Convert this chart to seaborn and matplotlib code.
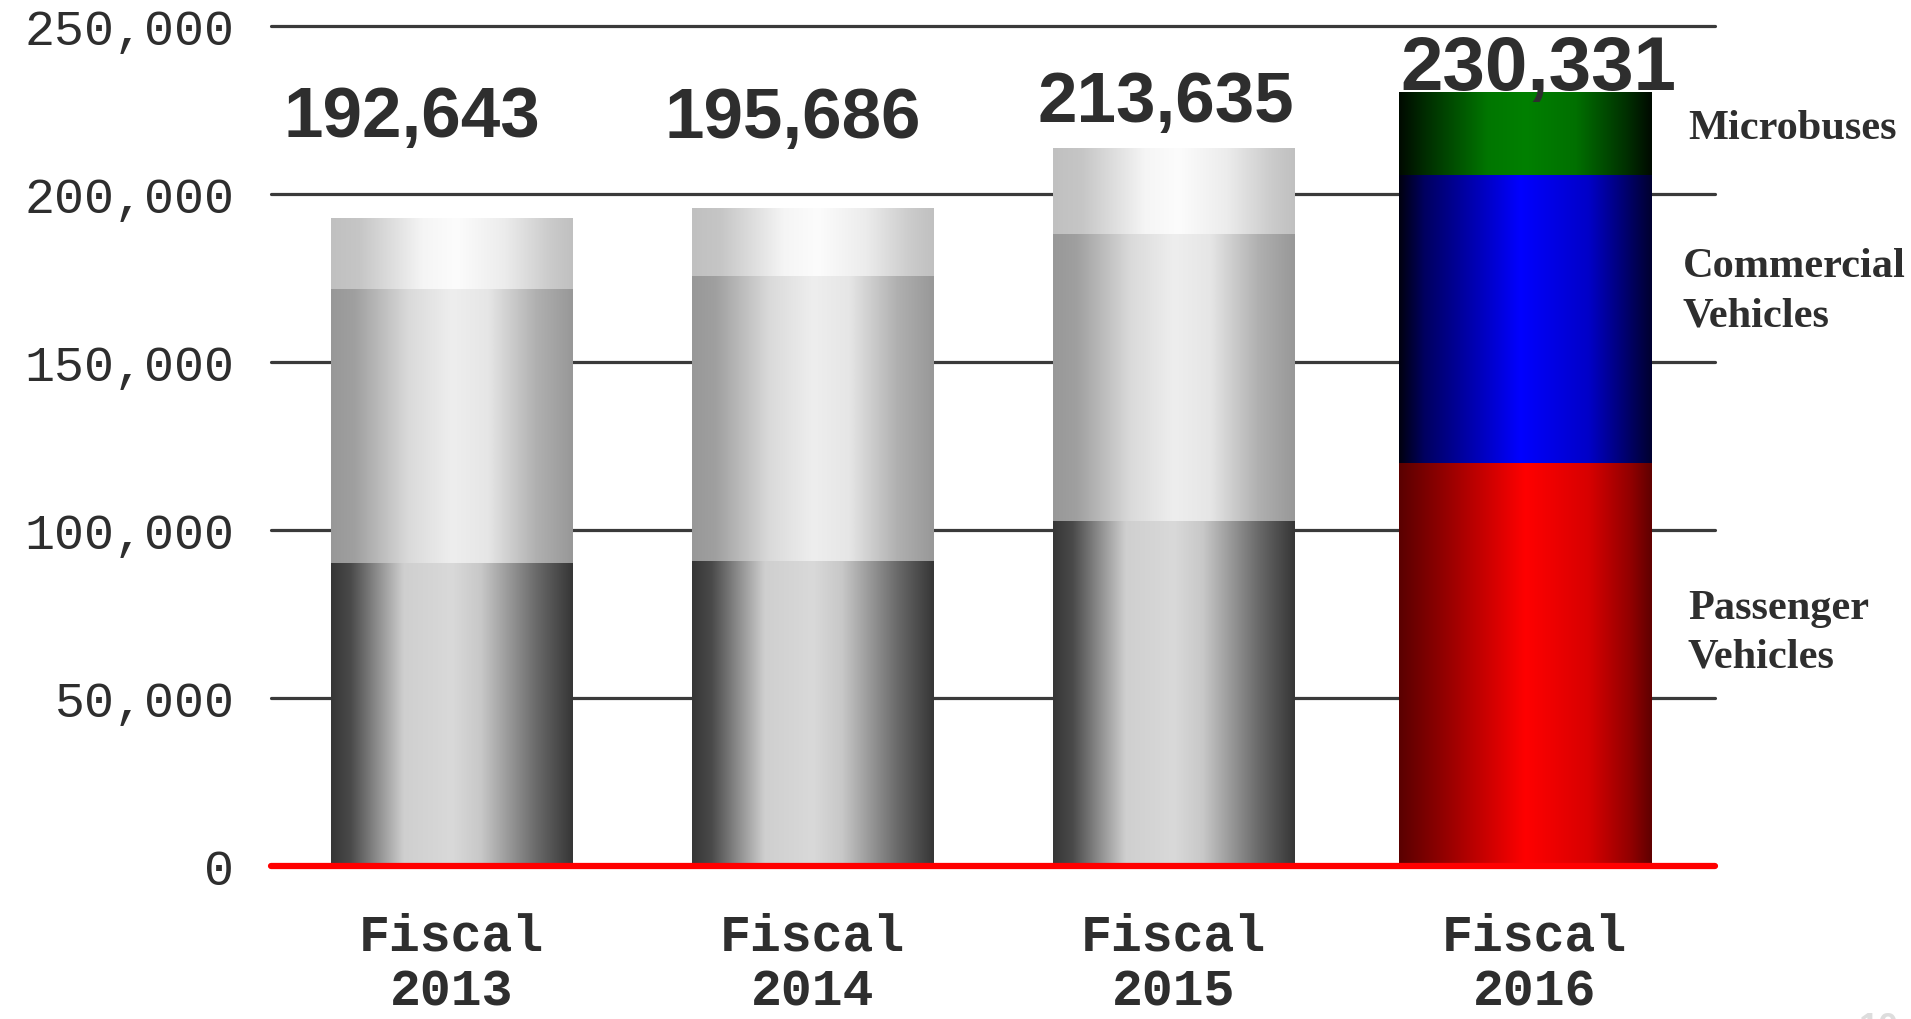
import numpy as np
import matplotlib
matplotlib.use("Agg")
import matplotlib.pyplot as plt
from matplotlib.colors import LinearSegmentedColormap
import seaborn as sns

# ---- data -------------------------------------------------------------
years = ["Fiscal\n2013", "Fiscal\n2014", "Fiscal\n2015", "Fiscal\n2016"]
passenger = [90100, 90700, 102600, 119850]
commercial = [81550, 84800, 85400, 85750]
microbuses = [20993, 20186, 25635, 24731]
totals = [192643, 195686, 213635, 230331]
y_ticks = [0, 50000, 100000, 150000, 200000, 250000]
segment_names = ["Microbuses", "Commercial\nVehicles", "Passenger\nVehicles"]

# ---- style ------------------------------------------------------------
TXT = "#2e2e2e"
bar_widths = [0.668, 0.668, 0.668, 0.70]
bar_shift = [0.0, 0.0, 0.0, -0.025]
total_label_dx = [-0.109, -0.053, -0.02, 0.012]
total_label_y = [217300, 217000, 221700, 231100]
total_label_size = [51, 51, 51, 55]
name_pos = [(3.425, 219500), (3.411, 171100), (3.425, 69500)]

grey_mb = [(0, "#c0c0c0"), (0.12, "#c6c6c6"), (0.38, "#f5f5f5"), (0.52, "#fcfcfc"),
           (0.72, "#ececec"), (0.9, "#cccccc"), (1, "#c0c0c0")]
grey_cv = [(0, "#989898"), (0.1, "#a0a0a0"), (0.32, "#dadada"), (0.5, "#eeeeee"),
           (0.65, "#e6e6e6"), (0.85, "#b0b0b0"), (1, "#989898")]
grey_pv = [(0, "#363636"), (0.08, "#4a4a4a"), (0.3, "#cfcfcf"), (0.5, "#d9d9d9"),
           (0.62, "#c8c8c8"), (0.85, "#6a6a6a"), (1, "#363636")]
green = [(0, "#000a00"), (0.1, "#002c00"), (0.35, "#007600"), (0.5, "#008000"),
         (0.7, "#007000"), (0.9, "#003000"), (1, "#000a00")]
blue = [(0, "#000010"), (0.1, "#000060"), (0.48, "#0000ff"), (0.75, "#0000c8"),
        (0.92, "#000060"), (1, "#000030")]
red = [(0, "#5a0000"), (0.15, "#8a0000"), (0.5, "#ff0000"), (0.75, "#d80000"),
       (0.92, "#900000"), (1, "#600000")]

layer_shades = [
    [grey_mb, grey_mb, grey_mb, green],
    [grey_cv, grey_cv, grey_cv, blue],
    [grey_pv, grey_pv, grey_pv, red],
]

sns.set_theme(style="white")
plt.rcParams["font.family"] = ["Liberation Sans", "DejaVu Sans"]

fig = plt.figure(figsize=(19.11, 10.2), dpi=100)
ax = fig.add_axes([0.1416, 0.1504, 0.7558, 0.8233])

# stacked bars: cumulative heights drawn from the tallest layer down
cum_cv = [p + c for p, c in zip(passenger, commercial)]
levels = [totals, cum_cv, passenger]
for lvl in levels:
    sns.barplot(x=years, y=lvl, order=years, width=0.668, color="white",
                saturation=1, ax=ax)

gradient = np.linspace(0, 1, 512)[None, :]
patches = list(ax.patches)
for layer in range(3):
    for i in range(4):
        p = patches[layer * 4 + i]
        cx = p.get_x() + p.get_width() / 2 + bar_shift[i]
        w = bar_widths[i]
        p.set_x(cx - w / 2)
        p.set_width(w)
        p.set_facecolor("none")
        p.set_edgecolor("none")
        cmap = LinearSegmentedColormap.from_list(f"s{layer}{i}", layer_shades[layer][i])
        ax.imshow(gradient, cmap=cmap, extent=[cx - w / 2, cx + w / 2, 0, p.get_height()],
                  aspect="auto", interpolation="bilinear", zorder=2 + layer)

# grid and baseline
for t in y_ticks[1:]:
    ax.axhline(t, color="#3a3a3a", lw=2.3, zorder=1, clip_on=False)
ax.axhline(0, color="#ff0000", lw=4.5, zorder=8, clip_on=False)

ax.set_xlim(-0.5, 3.5)
ax.set_ylim(0, 250000)
ax.set_xlabel("")
ax.set_ylabel("")
for s in ax.spines.values():
    s.set_visible(False)

ax.set_yticks(y_ticks)
ax.set_yticklabels([f"{v:,}" for v in y_ticks], family="Liberation Mono",
                   fontsize=36, color=TXT)
ax.set_xticks(range(len(years)))
ax.set_xticklabels(years, family="Liberation Mono", fontweight="bold",
                   fontsize=37, color=TXT)
for lbl in ax.get_xticklabels():
    lbl.set_linespacing(1.18)
ax.tick_params(axis="y", length=0, pad=26)
ax.tick_params(axis="x", length=0, pad=33)

# totals above bars
for i, t in enumerate(totals):
    ax.text(i + total_label_dx[i], total_label_y[i], f"{t:,}", ha="center",
            va="baseline", fontsize=total_label_size[i], fontweight="bold",
            color=TXT, family="Liberation Sans", zorder=9)

# segment names beside the last bar
for name, (x, y) in zip(segment_names, name_pos):
    ax.text(x, y, name, ha="left", va="center", fontsize=30.5, fontweight="bold",
            family="Liberation Serif", color=TXT, linespacing=1.38, clip_on=False)

fig.text(0.9725, 0.0078, "10", ha="left", va="top", fontsize=26, fontweight="bold",
         color="#dddddd", family="Liberation Sans")

fig.savefig("out.png", dpi=100, facecolor="white")
